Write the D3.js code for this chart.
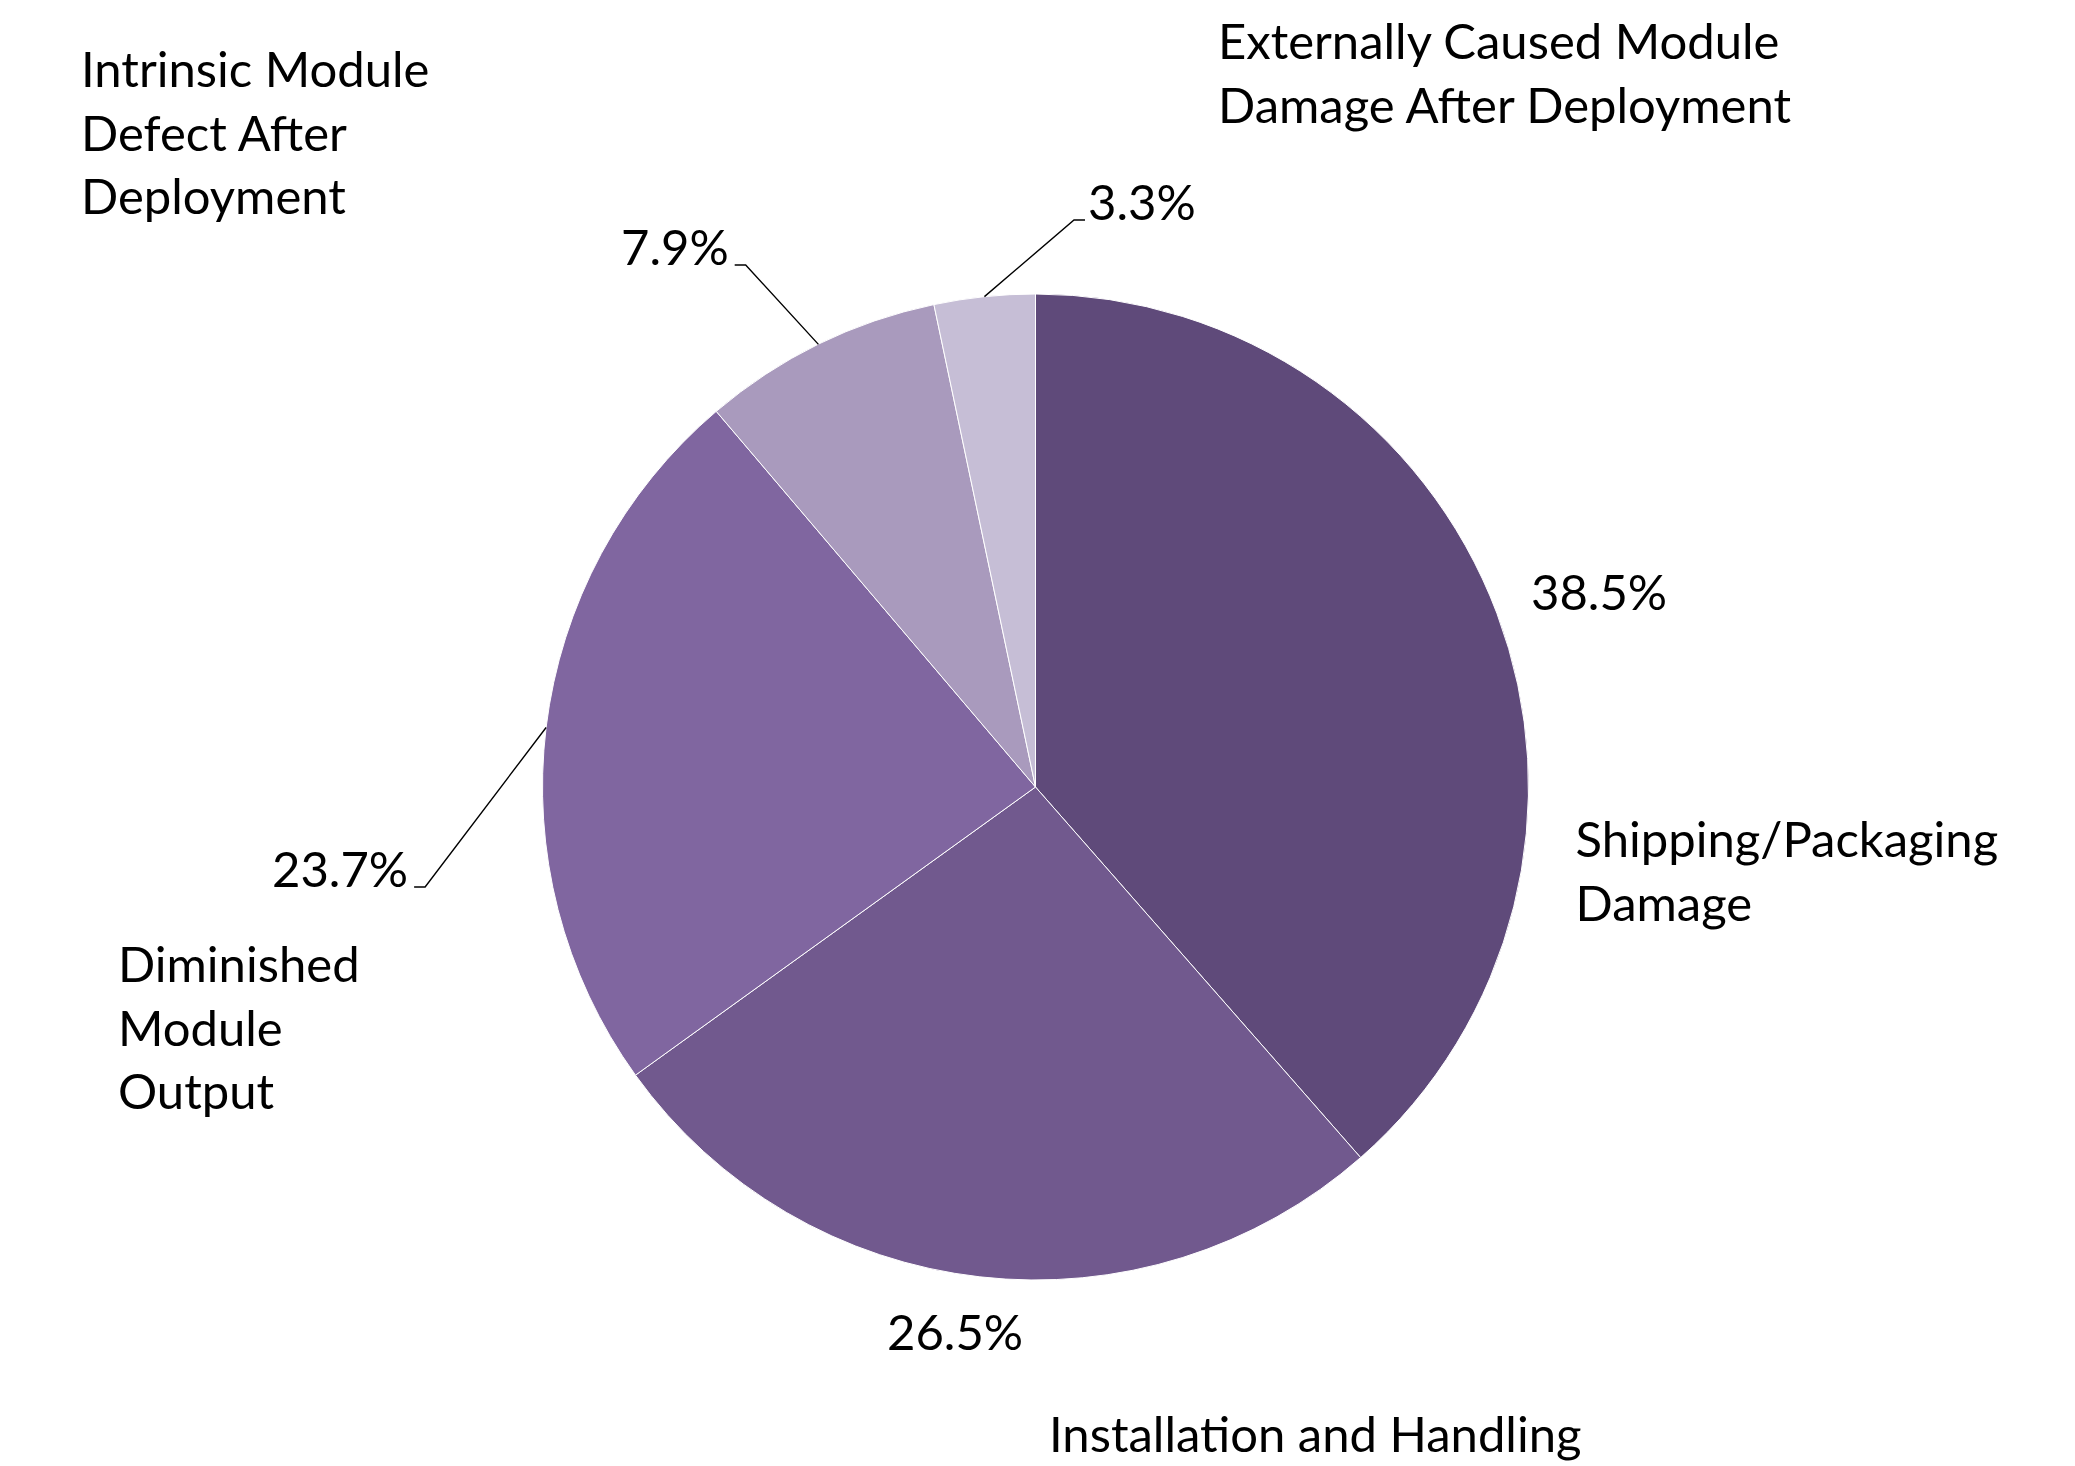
<!DOCTYPE html>
<html>
<head>
<meta charset="utf-8">
<script src="https://cdn.jsdelivr.net/npm/d3@7"></script>
<style>
  html, body { margin: 0; padding: 0; background: #ffffff; }
  svg { display: block; }
  text { font-family: Lato, "Open Sans", sans-serif; fill: #000; }
</style>
</head>
<body>
<svg id="chart" width="2075" height="1466"></svg>
<script>
// ---- data ----
const categories = [
  "Shipping/Packaging Damage",
  "Installation and Handling",
  "Diminished Module Output",
  "Intrinsic Module Defect After Deployment",
  "Externally Caused Module Damage After Deployment"
];
const values = [38.5, 26.5, 23.7, 7.9, 3.3];
const categoryLines = [
  ["Shipping/Packaging", "Damage"],
  ["Installation and Handling"],
  ["Diminished", "Module", "Output"],
  ["Intrinsic Module", "Defect After", "Deployment"],
  ["Externally Caused Module", "Damage After Deployment"]
];

// ---- styles / layout ----
const colors = ["#5F4A7A", "#71598E", "#8066A0", "#A99ABD", "#C6BED6"];
const cx = 1035.5, cy = 787, radius = 493;
const fontSize = 49, lineHeight = 63.5;
// percentage label anchors (left x, baseline) relative to pie centre
const pctOffsets = [[495.5, -177], [-148.5, 563], [-763.5, 100], [-414.5, -522], [52.5, -567]];
// leaders: null = none, "right" = leader leaves right end of text, "left" = left end
const leaderSide = [null, null, "right", "right", "left"];
// category label anchors (left x, first baseline) relative to pie centre
const catOffsets = [[540, 70], [13.5, 665], [-917.5, 195], [-954.5, -700], [182.5, -728]];

const svg = d3.select("#chart");
const g = svg.append("g").attr("transform", `translate(${cx},${cy})`);

const pie = d3.pie().sort(null).value(d => d.value).startAngle(0).endAngle(2 * Math.PI);
const data = categories.map((c, i) => ({ name: c, value: values[i], i }));
const arcs = pie(data);
const arc = d3.arc().innerRadius(0).outerRadius(radius);

g.selectAll("path.slice")
  .data(arcs)
  .enter().append("path")
  .attr("class", "slice")
  .attr("d", arc)
  .attr("fill", d => colors[d.data.i])
  .attr("stroke", "#ffffff")
  .attr("stroke-width", 1);

// percentage labels
const pct = g.selectAll("text.pct")
  .data(arcs)
  .enter().append("text")
  .attr("class", "pct")
  .attr("x", d => pctOffsets[d.data.i][0])
  .attr("y", d => pctOffsets[d.data.i][1])
  .attr("font-size", fontSize)
  .text(d => d3.format(".1f")(d.data.value) + "%");

// leader lines
pct.each(function(d) {
  const side = leaderSide[d.data.i];
  if (!side) return;
  const bb = this.getBBox();
  const mid = (d.startAngle + d.endAngle) / 2;
  const edge = [Math.sin(mid) * radius, -Math.cos(mid) * radius];
  const y = pctOffsets[d.data.i][1];
  let end, elbow;
  if (side === "right") {
    end = [bb.x + bb.width + 6, y];
    elbow = [end[0] + 11, y];
  } else {
    end = [bb.x - 3, y];
    elbow = [end[0] - 11, y];
  }
  g.append("path")
    .attr("d", d3.line()([edge, elbow, end]))
    .attr("fill", "none")
    .attr("stroke", "#000")
    .attr("stroke-width", 1.4);
});

// category labels
g.selectAll("text.cat")
  .data(arcs)
  .enter().append("text")
  .attr("class", "cat")
  .attr("font-size", fontSize)
  .each(function(d) {
    const [ox, oy] = catOffsets[d.data.i];
    d3.select(this).selectAll("tspan")
      .data(categoryLines[d.data.i])
      .enter().append("tspan")
      .attr("x", ox)
      .attr("y", (t, k) => oy + k * lineHeight)
      .text(t => t);
  });
</script>
</body>
</html>
